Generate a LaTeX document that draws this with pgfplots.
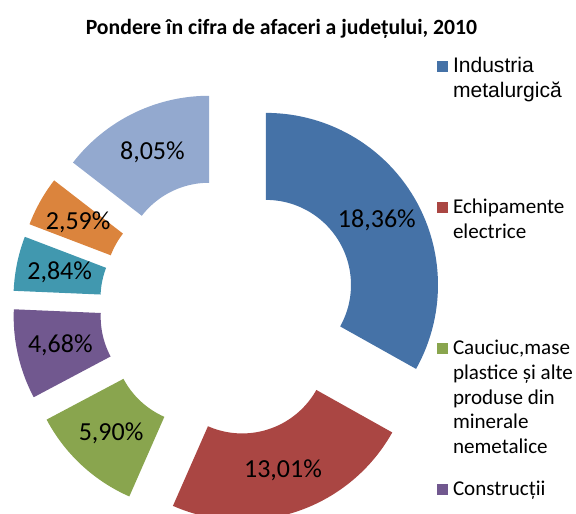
\documentclass[border=0pt]{standalone}
\usepackage{pgfplots}
\pgfplotsset{compat=1.18}
\usepackage{pgfplotstable}
\usepackage{fontspec}
\setmainfont{Carlito}
\newfontfamily\arialfont{Liberation Sans}

\definecolor{c0}{HTML}{4572A7}
\definecolor{c1}{HTML}{AA4643}
\definecolor{c2}{HTML}{89A54E}
\definecolor{c3}{HTML}{71588F}
\definecolor{c4}{HTML}{4198AF}
\definecolor{c5}{HTML}{DB843D}
\definecolor{c6}{HTML}{93A9CF}

\pgfplotstableread{
idx value
0 18.36
1 13.01
2 5.90
3 4.68
4 2.84
5 2.59
6 8.05
}\datatable

\def\total{0}
\pgfplotsforeachungrouped \k in {0,...,6}{%
  \pgfplotstablegetelem{\k}{value}\of\datatable
  \pgfmathsetmacro\total{\total+\pgfplotsretval}%
}

% geometry in px units of the reference
\def\cx{228.3}
\def\cy{207}
\def\RR{172}
\def\rr{85}
\def\dd{43.7}
\def\Rmid{128.5}

\newcommand\labelfont{\fontsize{19.5}{23}\selectfont}
\newcommand\legfont{\fontsize{15.8}{18.4}\selectfont}
\newcommand\legentry[1]{\parbox[t][105.75pt][t]{4cm}{\legfont\baselineskip=18.4pt\relax #1}}

\begin{document}
\begin{tikzpicture}
\useasboundingbox (0,0) rectangle (432pt,385.5pt);
\clip (0,0) rectangle (432pt,385.5pt);
\begin{axis}[
  x=0.75pt, y=0.75pt,
  xmin=0, xmax=576, ymin=0, ymax=514,
  hide axis, clip=true,
  every axis title shift=0pt,
  title={Pondere în cifra de afaceri a județului, 2010},
  title style={font=\bfseries\fontsize{16.3}{19}\selectfont, at={(0.4887,0.9319)}, anchor=base, inner sep=0pt},
  legend image code/.code={\path (0pt,0pt); \fill[#1] (0pt,0.75pt) rectangle (8.25pt,9pt);},
  legend style={draw=none, fill=none, inner sep=0pt, outer sep=0pt,
    row sep=0pt, column sep=3.75pt,
    cells={anchor=base west},
    nodes={inner sep=0pt, text depth=},
    at={(axis cs:437,458.2)}, anchor=north west,
    font=\legfont},
]
\def\cum{0}
\pgfplotsforeachungrouped \k in {0,...,6}{%
  \pgfplotstablegetelem{\k}{value}\of\datatable
  \let\sval\pgfplotsretval
  \pgfmathsetmacro\aS{90-360*(\cum/\total)}%
  \pgfmathsetmacro\cum{\cum+\sval}%
  \pgfmathsetmacro\aE{90-360*(\cum/\total)}%
  \pgfmathsetmacro\aM{(\aS+\aE)/2}%
  \pgfmathsetmacro\ox{\cx+\dd*cos(\aM)}%
  \pgfmathsetmacro\oy{\cy+\dd*sin(\aM)}%
  \pgfmathsetmacro\lx{\ox+\Rmid*cos(\aM)}%
  \pgfmathsetmacro\ly{\oy+\Rmid*sin(\aM)}%
  \edef\doslice{%
    \noexpand\addplot[draw=none, fill=c\k, samples at={0,1,...,60,100,101,...,160}]
      ({\ox + ifthenelse(x<80, \RR*cos(\aS+(\aE-\aS)*(x/60)), \rr*cos(\aE+(\aS-\aE)*((x-100)/60)))},
       {\oy + ifthenelse(x<80, \RR*sin(\aS+(\aE-\aS)*(x/60)), \rr*sin(\aE+(\aS-\aE)*((x-100)/60)))});
    \noexpand\node[font=\noexpand\labelfont, inner sep=0pt] at (axis cs:\lx,\ly)
      {\noexpand\pgfmathprintnumber[assume math mode=true,fixed,fixed zerofill,precision=2,use comma]{\sval}\noexpand\%};
  }%
  \doslice
}
\legend{
  {\legentry{\arialfont\strut Industria\\metalurgică}},
  {\legentry{\strut Echipamente\\electrice}},
  {\legentry{\strut Cauciuc,mase\\plastice și alte\\produse din\\minerale\\nemetalice}},
  {\legentry{\strut Construcții}}
}
\end{axis}
\end{tikzpicture}
\end{document}
